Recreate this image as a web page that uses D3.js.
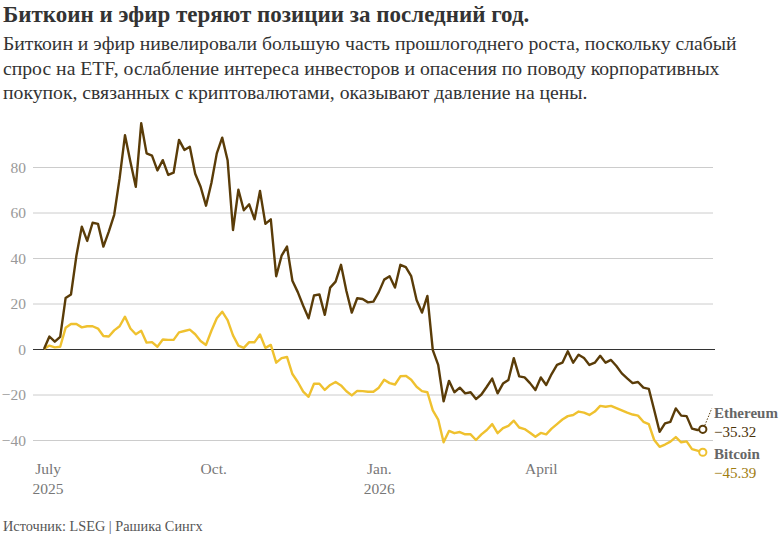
<!DOCTYPE html>
<html><head><meta charset="utf-8">
<script src="https://cdn.jsdelivr.net/npm/d3@7"></script>
<style>
body{margin:0;background:#fff;}
svg{display:block;font-family:"Liberation Serif","Times New Roman",serif;}
</style></head>
<body><svg id="c" width="783" height="544"></svg>
<script>
const dates = ["2025-06-29","2025-07-02","2025-07-05","2025-07-08","2025-07-11","2025-07-14","2025-07-17","2025-07-20","2025-07-23","2025-07-26","2025-07-29",
"2025-08-01","2025-08-04","2025-08-07","2025-08-10","2025-08-13","2025-08-16","2025-08-19","2025-08-22","2025-08-25","2025-08-28","2025-08-31",
"2025-09-03","2025-09-06","2025-09-09","2025-09-12","2025-09-15","2025-09-18","2025-09-21","2025-09-24","2025-09-27","2025-09-30",
"2025-10-03","2025-10-06","2025-10-09","2025-10-12","2025-10-15","2025-10-18","2025-10-21","2025-10-24","2025-10-27","2025-10-30",
"2025-11-02","2025-11-05","2025-11-08","2025-11-11","2025-11-14","2025-11-17","2025-11-20","2025-11-23","2025-11-26","2025-11-29",
"2025-12-02","2025-12-05","2025-12-08","2025-12-11","2025-12-14","2025-12-17","2025-12-20","2025-12-23","2025-12-26","2025-12-29",
"2026-01-01","2026-01-04","2026-01-07","2026-01-10","2026-01-13","2026-01-16","2026-01-19","2026-01-22","2026-01-25","2026-01-28","2026-01-31",
"2026-02-03","2026-02-06","2026-02-09","2026-02-12","2026-02-15","2026-02-18","2026-02-21","2026-02-24","2026-02-27",
"2026-03-02","2026-03-05","2026-03-08","2026-03-11","2026-03-14","2026-03-17","2026-03-20","2026-03-23","2026-03-26","2026-03-29",
"2026-04-01","2026-04-04","2026-04-07","2026-04-10","2026-04-13","2026-04-16","2026-04-19","2026-04-22","2026-04-25","2026-04-28",
"2026-05-01","2026-05-04","2026-05-07","2026-05-10","2026-05-13","2026-05-16","2026-05-19","2026-05-22","2026-05-25","2026-05-28","2026-05-31",
"2026-06-03","2026-06-06","2026-06-09","2026-06-12","2026-06-15","2026-06-18","2026-06-21","2026-06-24","2026-06-27","2026-06-30"];

const ethereum = [0,5.5,3.2,5.3,22.4,24,41,53.8,47.5,55.5,55,
45,51.6,59,75,94,82.3,71.3,99.2,86,85,78.5,
83,76.5,77.5,91.9,87.5,88.9,77,71.3,63,73,
86,92.9,83,52.3,70,61,63.6,57,69.5,55,
57,32,41,45,30,25,19,13.5,23.5,24,
15,27,29.6,37,25.5,16,22.3,22,20.5,20.8,
25,30.5,32,27,37,36,32,21.5,16,23.3,-0.5,
-7,-23,-14,-19,-17,-19.5,-19,-22,-20,
-16.6,-13,-19.5,-15.2,-13.6,-4,-12,-12.5,-15,-18,
-12.5,-15.8,-11,-7,-6,-1,-6,-2.5,-4,-7,
-6,-3,-6,-4.8,-7.5,-10.7,-12.9,-15,-14.5,-17,-17.5,
-26.8,-36.4,-32.7,-32,-26.1,-29.3,-29.5,-35,-35.6,-35.32];

const bitcoin = [0,1.5,0.7,1,9.3,11,11,9.5,10,10,9,
5.7,5.5,8.2,10,14.2,9,6.5,8,2.8,3,1,
4.2,4,4,7.3,7.9,8.5,6.5,3.5,1.8,8,
13.5,16.4,12.7,6,1.5,0.5,3,3,6.4,0.5,
1.8,-6,-4,-3.5,-11,-14.5,-18.7,-21,-15.3,-15.3,
-18,-15.8,-14.5,-16,-18.6,-20.4,-18.4,-18.5,-18.8,-18.8,
-17,-13.5,-15,-15.6,-12,-11.8,-13.5,-16.6,-18.5,-19,-27,
-31,-41,-36,-37,-36.5,-37.5,-37.5,-40,-37.5,
-35.6,-33,-37,-34.8,-33.8,-31.5,-34.5,-35.2,-36.8,-38.6,
-36.9,-37.5,-35,-33,-31,-29.5,-29,-27.5,-28,-29,
-27.5,-25,-25.4,-25,-26,-27,-28,-28.8,-29.3,-32,-33,
-40,-43,-42,-40.7,-38.7,-41,-40.6,-44,-44.7,-45.39];

const yTicks = [-40,-20,0,20,40,60,80];
const xTickDates = ["2025-07-01","2025-10-01","2026-01-01","2026-04-01"];
const xTickMonth = ["July","Oct.","Jan.","April"];
const xTickYear = ["2025","","2026",""];
const seriesNames = ["Ethereum","Bitcoin"];
const seriesColors = ["#5a3c08","#efc12f"];
const valueColors = ["#4a3208","#a07d10"];

const title = "Биткоин и эфир теряют позиции за последний год.";
const subtitle = ["Биткоин и эфир нивелировали большую часть прошлогоднего роста, поскольку слабый",
"спрос на ETF, ослабление интереса инвесторов и опасения по поводу корпоративных",
"покупок, связанных с криптовалютами, оказывают давление на цены."];
const source = "Источник: LSEG | Рашика Сингх";

const parse = d3.timeParse("%Y-%m-%d");
const D = dates.map(parse);
const svg = d3.select("#c");
const SERIF = "Liberation Serif, serif";

const x = d3.scaleTime().domain([D[0], D[D.length-1]]).range([44, 702.8]);
const y = d3.scaleLinear().domain([-40, 80]).range([440, 167]);
const fmt = v => (v < 0 ? "\u2212" + Math.abs(v) : String(v));

svg.append("text").attr("x",3).attr("y",22).attr("font-size",23).attr("font-weight","bold").attr("fill","#333").text(title);
subtitle.forEach((t,i)=>svg.append("text").attr("x",3).attr("y",50+i*24.5).attr("font-size",19.7).attr("fill","#333").text(t));

// y axis with gridlines
const yAxis = svg.append("g").attr("transform","translate(33,0)")
  .call(d3.axisRight(y).tickValues(yTicks).tickSize(680).tickFormat(fmt));
yAxis.attr("font-family",SERIF);
yAxis.select(".domain").remove();
yAxis.selectAll(".tick line").attr("stroke", d => d===0 ? "#333" : "#cccccc").attr("stroke-width",1)
  .attr("x2", d => d===0 ? 682 : 680);
yAxis.selectAll(".tick text").attr("x",-7).attr("text-anchor","end").attr("dy","0.35em")
  .attr("font-size",15.5).attr("fill","#999").attr("font-family",SERIF);

// x axis labels
const xAxis = svg.append("g").attr("transform","translate(0,460)")
  .call(d3.axisBottom(x).tickValues(xTickDates.map(parse)).tickSize(0).tickFormat((d,i)=>xTickMonth[i]));
xAxis.attr("font-family",SERIF);
xAxis.select(".domain").remove();
xAxis.selectAll(".tick text").attr("y",0).attr("font-size",15.5).attr("fill","#777").attr("font-family",SERIF).attr("dy","0.9em")
  .each(function(d,i){ if(xTickYear[i]) d3.select(this.parentNode).append("text").attr("y",20).attr("dy","0.9em").attr("text-anchor","middle")
     .attr("font-size",15.5).attr("fill","#777").attr("font-family",SERIF).text(xTickYear[i]); });

const line = d3.line().x((d,i)=>x(D[i])).y(d=>y(d));
[bitcoin, ethereum].forEach((s,j)=>{
  const ci = j===0 ? 1 : 0;
  svg.append("path").datum(s).attr("d",line).attr("fill","none").attr("stroke",seriesColors[ci])
    .attr("stroke-width",2.4).attr("stroke-linejoin","round");
});

// end markers and labels
const last = D.length-1;
const ends = [ethereum[last], bitcoin[last]];
ends.forEach((v,i)=>{
  svg.append("circle").attr("cx",x(D[last])).attr("cy",y(v)).attr("r",3.6).attr("fill","#fff")
    .attr("stroke",seriesColors[i]).attr("stroke-width",2);
});
svg.append("line").attr("x1",x(D[last])+2).attr("y1",y(ends[0])-4).attr("x2",x(D[last])+9).attr("y2",y(ends[0])-21)
  .attr("stroke","#5a3c08").attr("stroke-width",1).attr("stroke-dasharray","1.5,1.5");
const labelY = [418, 459];
seriesNames.forEach((n,i)=>{
  svg.append("text").attr("x",714).attr("y",labelY[i]).attr("font-size",15).attr("font-weight","bold").attr("fill","#666").text(n);
  svg.append("text").attr("x",714).attr("y",labelY[i]+18.5).attr("font-size",15).attr("fill",valueColors[i]).text(fmt(ends[i]));
});

svg.append("text").attr("x",3).attr("y",531).attr("font-size",14.3).attr("fill","#555").text(source);
</script></body></html>
